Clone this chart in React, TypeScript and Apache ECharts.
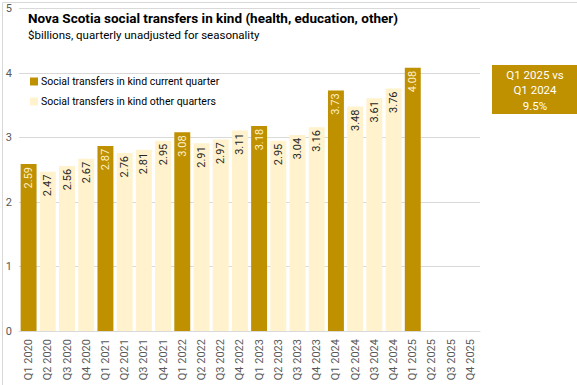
import React, { useEffect, useRef } from "react";
import * as echarts from "echarts";

const categories = [
  "Q1 2020", "Q2 2020", "Q3 2020", "Q4 2020",
  "Q1 2021", "Q2 2021", "Q3 2021", "Q4 2021",
  "Q1 2022", "Q2 2022", "Q3 2022", "Q4 2022",
  "Q1 2023", "Q2 2023", "Q3 2023", "Q4 2023",
  "Q1 2024", "Q2 2024", "Q3 2024", "Q4 2024",
  "Q1 2025", "Q2 2025", "Q3 2025", "Q4 2025",
];
const currentQuarter: (number | null)[] = [
  2.59, null, null, null,
  2.87, null, null, null,
  3.08, null, null, null,
  3.18, null, null, null,
  3.73, null, null, null,
  4.08, null, null, null,
];
const otherQuarters: (number | null)[] = [
  null, 2.47, 2.56, 2.67,
  null, 2.76, 2.81, 2.95,
  null, 2.91, 2.97, 3.11,
  null, 2.95, 3.04, 3.16,
  null, 3.48, 3.61, 3.76,
  null, null, null, null,
];
const yTicks = [0, 1, 2, 3, 4, 5];
const titleText = "Nova Scotia social transfers in kind (health, education, other)";
const subtitleText = "$billions, quarterly unadjusted for seasonality";
const seriesNames = ["Social transfers in kind current quarter", "Social transfers in kind other quarters"];
const boxLines = ["Q1 2025 vs", "Q1 2024", "9.5%"];

const DARK = "#BF9000";
const LIGHT = "#FFF2CC";
const FONT = "Roboto";

export default function App() {
  const ref = useRef<HTMLDivElement>(null);
  useEffect(() => {
    document.body.style.margin = "0";
    const chart = echarts.init(ref.current!, undefined, { renderer: "svg" });
    chart.setOption({
      animation: false,
      backgroundColor: "#ffffff",
      textStyle: { fontFamily: FONT },
      grid: { left: 19, right: 97, top: 8.5, bottom: 54, containLabel: false },
      title: [
        {
          text: titleText,
          left: 23,
          top: 6,
          textStyle: { fontFamily: FONT, fontSize: 13.5, fontWeight: "bold", color: "#000" },
        },
        {
          text: subtitleText,
          left: 23,
          top: 24,
          textStyle: { fontFamily: FONT, fontSize: 11.5, fontWeight: "normal", color: "#000" },
        },
      ],
      legend: {
        orient: "vertical",
        left: 25,
        top: 71,
        itemWidth: 8,
        itemHeight: 8,
        itemGap: 9,
        icon: "rect",
        textStyle: { fontFamily: FONT, fontSize: 10.5, color: "#000", padding: [0, 0, 0, -2] },
        data: seriesNames,
      },
      xAxis: {
        type: "category",
        data: categories,
        axisTick: { show: false },
        axisLine: { lineStyle: { color: "#d9d9d9" } },
        axisLabel: { rotate: 90, fontSize: 11, color: "#595959", margin: 8, interval: 0 },
      },
      yAxis: {
        type: "value",
        min: yTicks[0],
        max: yTicks[yTicks.length - 1],
        interval: 1,
        axisLabel: { fontSize: 11, color: "#595959", margin: 7, align: "right" },
        splitLine: { lineStyle: { color: "#d9d9d9" } },
      },
      series: [
        {
          name: seriesNames[0],
          type: "bar",
          stack: "s",
          data: currentQuarter,
          barCategoryGap: "17%",
          itemStyle: { color: DARK },
          label: {
            show: true,
            position: "insideTop",
            rotate: 90,
            align: "right",
            verticalAlign: "middle",
            distance: 3,
            fontSize: 11,
            color: LIGHT,
            formatter: (p: any) => p.value.toFixed(2),
          },
        },
        {
          name: seriesNames[1],
          type: "bar",
          stack: "s",
          data: otherQuarters,
          barCategoryGap: "17%",
          itemStyle: { color: LIGHT },
          label: {
            show: true,
            position: "insideTop",
            rotate: 90,
            align: "right",
            verticalAlign: "middle",
            distance: 3,
            fontSize: 11,
            color: "#262626",
            formatter: (p: any) => p.value.toFixed(2),
          },
        },
      ],
      graphic: [
        {
          type: "rect",
          left: 0,
          top: 0,
          shape: { width: 576, height: 384 },
          style: { fill: "none", stroke: "#d9d9d9", lineWidth: 1 },
          silent: true,
        },
        {
          type: "group",
          left: 492,
          top: 65,
          children: [
            { type: "rect", shape: { x: 0, y: 0, width: 85, height: 49 }, style: { fill: DARK } },
            ...boxLines.map((t, i) => ({
              type: "text",
              x: 43,
              y: 9.5 + i * 15.5,
              style: {
                text: t,
                fill: "#ffffff",
                fontSize: 11.5,
                fontFamily: FONT,
                align: "center",
                verticalAlign: "middle",
              },
            })),
          ],
        },
      ],
    });
    return () => chart.dispose();
  }, []);
  return <div ref={ref} style={{ width: 577, height: 385, position: "absolute", left: 0, top: 0 }} />;
}
